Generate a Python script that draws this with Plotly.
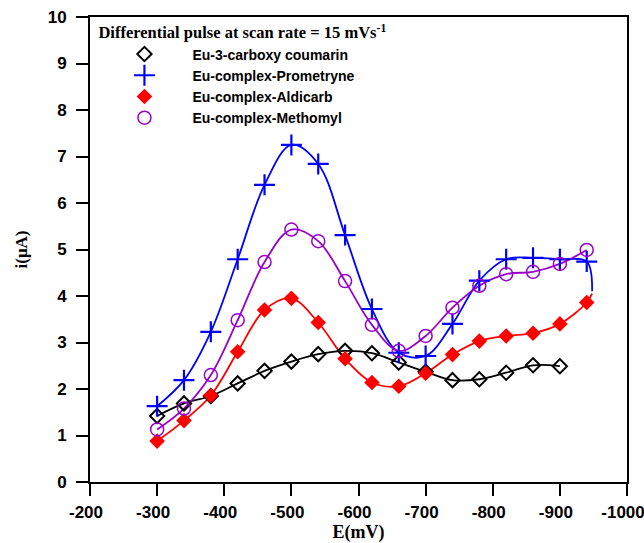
import plotly.graph_objects as go

# ---- data ----
potential = [-300, -340, -380, -420, -460, -500, -540, -580, -620, -660,
             -700, -740, -780, -820, -860, -900, -940]
coumarin = [1.42, 1.69, 1.85, 2.12, 2.39, 2.59, 2.75, 2.82, 2.77, 2.57,
            2.37, 2.19, 2.21, 2.35, 2.51, 2.49]
prometryne = [1.63, 2.19, 3.23, 4.79, 6.39, 7.25, 6.84, 5.31, 3.72, 2.78,
              2.71, 3.40, 4.33, 4.79, 4.82, 4.79, 4.74]
aldicarb = [0.88, 1.32, 1.86, 2.80, 3.70, 3.95, 3.43, 2.65, 2.14, 2.06,
            2.34, 2.74, 3.03, 3.14, 3.20, 3.40, 3.86]
methomyl = [1.13, 1.58, 2.30, 3.48, 4.73, 5.43, 5.18, 4.32, 3.38, 2.82,
            3.14, 3.75, 4.22, 4.47, 4.52, 4.69, 4.99]
# end of the fitted curves (line only, no marker)
tail_x = -948
prometryne_tail = 4.10
aldicarb_tail = 4.05

x_ticks = [-200, -300, -400, -500, -600, -700, -800, -900, -1000]
x_tick_labels = [str(v) for v in x_ticks]
y_ticks = list(range(0, 11))

names = ["Eu-3-carboxy coumarin", "Eu-complex-Prometryne",
         "Eu-complex-Aldicarb", "Eu-complex-Methomyl"]
colors = ["black", "#0000ff", "#ff0000", "#9900cc"]

fig = go.Figure()

series = [
    (coumarin, None, dict(symbol="diamond-open", size=11, line=dict(width=2))),
    (prometryne, prometryne_tail, dict(symbol="cross-thin-open", size=15, line=dict(width=2.2))),
    (aldicarb, aldicarb_tail, dict(symbol="diamond", size=12, line=dict(width=0))),
    (methomyl, None, dict(symbol="circle-open", size=13, line=dict(width=1.5))),
]

for (vals, tail, mk), name, col in zip(series, names, colors):
    xs = potential[:len(vals)]
    lx, ly = list(xs), list(vals)
    if tail is not None:
        lx.append(tail_x)
        ly.append(tail)
    fig.add_trace(go.Scatter(x=lx, y=ly, mode="lines",
                             line=dict(color=col, width=1.8, shape="spline", smoothing=1.0),
                             showlegend=False, hoverinfo="skip"))

for (vals, tail, mk), name, col in zip(series, names, colors):
    xs = potential[:len(vals)]
    mk = dict(mk)
    mk["color"] = col
    mk["line"] = dict(mk["line"], color=col)
    fig.add_trace(go.Scatter(x=xs, y=vals, mode="markers", name=name, marker=mk))

axis_common = dict(
    showgrid=False, zeroline=False, showline=True, linecolor="black", linewidth=2,
    mirror=True, ticks="outside", ticklen=12, tickwidth=2, tickcolor="black",
    automargin=False, ticklabeloverflow="allow",
    tickfont=dict(family="Liberation Sans", size=17, color="black", weight="bold"),
)

fig.update_layout(
    width=644, height=543,
    margin=dict(l=90, r=17, t=17, b=61, autoexpand=False),
    plot_bgcolor="white", paper_bgcolor="white",
    showlegend=True,
    legend=dict(
        x=0.012, y=1.0, xanchor="left", yanchor="top",
        bgcolor="rgba(0,0,0,0)", borderwidth=0,
        itemwidth=86,
        font=dict(family="Liberation Sans", size=14, color="black", weight="bold"),
        title=dict(text="<b>Differential pulse at scan rate = 15 mVs<sup>-1</sup></b>",
                   font=dict(family="Liberation Serif", size=16.5, color="black"),
                   side="top"),
        tracegroupgap=0,
    ),
    xaxis=dict(
        range=[-200, -1000], tickvals=x_ticks, ticktext=x_tick_labels,
        ticklabelstandoff=2, ticklabelshift=4,
        title=dict(text="<b>E(mV)</b>", standoff=12,
                   font=dict(family="Liberation Serif", size=18, color="black")),
        **axis_common,
    ),
    yaxis=dict(
        range=[0, 10], tickvals=y_ticks,
        ticklabelstandoff=6,
        title=dict(text="<b>i(μA)</b>", standoff=16,
                   font=dict(family="Liberation Serif", size=17, color="black")),
        **axis_common,
    ),
)

fig.write_html("out.html")
